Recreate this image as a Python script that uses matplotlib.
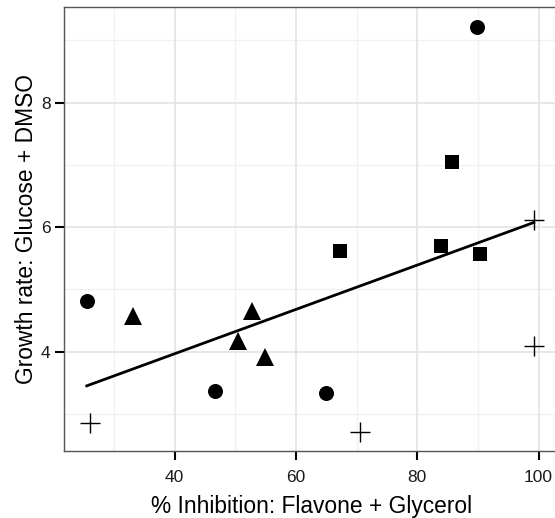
import numpy as np
import matplotlib
matplotlib.use("Agg")
import matplotlib.pyplot as plt

plt.rcParams['font.family'] = ['Liberation Sans', 'DejaVu Sans']

# data, grouped by marker shape
circle_x = [89.8, 25.5, 46.6, 64.9]
circle_y = [9.21, 4.82, 3.37, 3.33]
triangle_x = [33.1, 52.8, 50.5, 54.9]
triangle_y = [4.57, 4.65, 4.18, 3.91]
square_x = [85.8, 67.3, 83.9, 90.4]
square_y = [7.04, 5.62, 5.70, 5.57]
plus_x = [99.2, 26.0, 70.5, 99.2]
plus_y = [6.11, 2.86, 2.71, 4.09]

x_ticks = [40, 60, 80, 100]
y_ticks = [4, 6, 8]

fig = plt.figure(figsize=(5.55, 5.18), dpi=100)
ax = fig.add_axes([0.1159, 0.1299, 0.8895, 0.857])

# grid like theme_bw
for v in [30, 50, 70, 90]:
    ax.axvline(v, color='#f2f2f2', lw=1.0, zorder=0)
for v in [3, 5, 7, 9]:
    ax.axhline(v, color='#f2f2f2', lw=1.0, zorder=0)
for v in x_ticks:
    ax.axvline(v, color='#e3e3e3', lw=1.2, zorder=0)
for v in y_ticks:
    ax.axhline(v, color='#e3e3e3', lw=1.2, zorder=0)

ax.plot(circle_x, circle_y, 'o', color='black', ms=10.8, mew=0, zorder=3)
ax.plot(triangle_x, triangle_y, '^', color='black', ms=12.5, mew=0, zorder=3)
ax.plot(square_x, square_y, 's', color='black', ms=10.2, mew=0, zorder=3)
ax.plot(plus_x, plus_y, '+', color='black', ms=14.5, mew=1.0, zorder=3)

# linear fit over all points
all_x = np.array(circle_x + triangle_x + square_x + plus_x)
all_y = np.array(circle_y + triangle_y + square_y + plus_y)
slope, intercept = np.polyfit(all_x, all_y, 1)
xs = np.array([all_x.min(), all_x.max()])
ax.plot(xs, slope * xs + intercept, color='black', lw=2.0, zorder=2)

ax.set_xlim(21.8, 103.2)
ax.set_ylim(2.41, 9.54)
ax.set_xticks(x_ticks)
ax.set_yticks(y_ticks)
ax.tick_params(length=6.5, width=1.5, color='black', labelsize=12.5,
               labelcolor='#1a1a1a')
ax.tick_params(axis='x', pad=7.5)
ax.tick_params(axis='y', pad=3.5)

for s in ax.spines.values():
    s.set_color('#555555')
    s.set_linewidth(1.0)

ax.set_xlabel('% Inhibition: Flavone + Glycerol', fontsize=16.4, labelpad=7)
ax.set_ylabel('Growth rate: Glucose + DMSO', fontsize=16.4, labelpad=2)

fig.savefig('out.png', dpi=100)
